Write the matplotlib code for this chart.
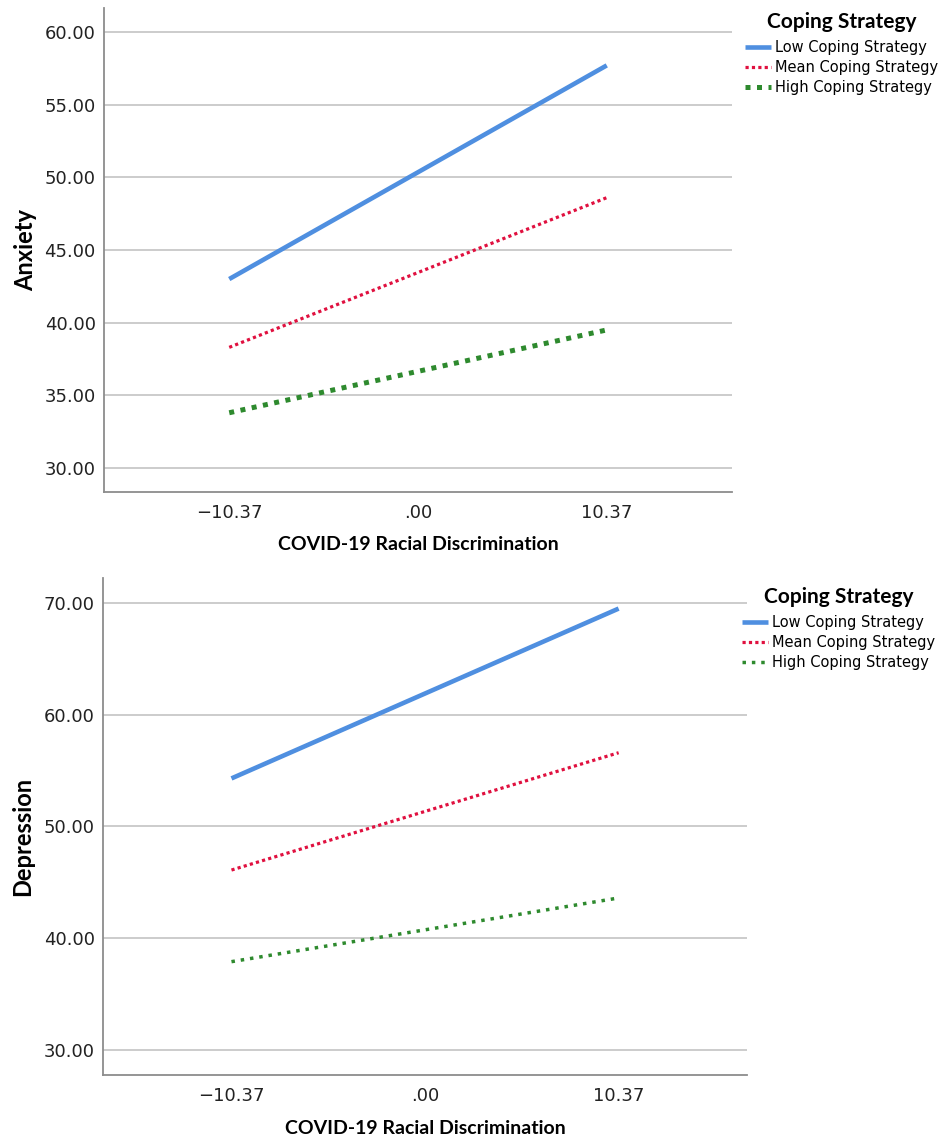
import matplotlib
matplotlib.use("Agg")
import matplotlib.pyplot as plt

# simple slopes: COVID-19 racial discrimination x coping strategy
x_vals = [-10.37, 10.37]
x_ticks = [-10.37, 0.0, 10.37]
x_ticklabels = ["\u221210.37", ".00", "10.37"]

groups = ["Low Coping Strategy", "Mean Coping Strategy", "High Coping Strategy"]

anx_low = [43.0, 57.7]
anx_mean = [38.3, 48.6]
anx_high = [33.8, 39.5]
anx_ticks = [30, 35, 40, 45, 50, 55, 60]

dep_low = [54.3, 69.5]
dep_mean = [46.1, 56.6]
dep_high = [37.9, 43.6]
dep_ticks = [30, 40, 50, 60, 70]

blue = "#4f8fe0"
red = "#e0103f"
green = "#2e8a2e"
label_font = ["Liberation Sans Narrow", "Lato", "DejaVu Sans"]

W, H = 941, 1142
fig = plt.figure(figsize=(W / 100, H / 100), dpi=100)


def panel(rect, low, mean, high, yticks, ylim, ylabel, green_dash, green_lw, ylab_y, leg_xy):
    ax = fig.add_axes(rect)
    ax.plot(x_vals, low, color=blue, lw=3.3, solid_capstyle="butt", label=groups[0])
    ax.plot(x_vals, mean, color=red, lw=2.3, linestyle=(0, (1, 1)),
            dash_capstyle="butt", label=groups[1])
    ax.plot(x_vals, high, color=green, lw=green_lw, linestyle=(0, green_dash),
            dash_capstyle="butt", label=groups[2])

    ax.set_xlim(-17.25, 17.25)
    ax.set_ylim(*ylim)
    ax.set_yticks(yticks)
    ax.set_yticklabels(["%.2f" % t for t in yticks])
    ax.set_xticks(x_ticks)
    ax.set_xticklabels(x_ticklabels)
    ax.tick_params(length=0, labelsize=13, colors="#222222")
    ax.tick_params(axis="y", pad=6)
    ax.tick_params(axis="x", pad=9)

    ax.grid(axis="y", color="#c8c8c8", lw=1.3)
    ax.set_axisbelow(True)
    for s in ["top", "right"]:
        ax.spines[s].set_visible(False)
    for s in ["left", "bottom"]:
        ax.spines[s].set_color("#8c8c8c")
        ax.spines[s].set_linewidth(1.3)

    ax.set_ylabel(ylabel, fontsize=17, fontweight="bold", family=label_font, va="center")
    ax.yaxis.set_label_coords(-0.125, ylab_y)
    ax.set_xlabel("COVID-19 Racial Discrimination", fontsize=14, fontweight="bold",
                  family=label_font, va="center")
    ax.xaxis.set_label_coords(0.5, -0.108)

    # legend sits to the right, anchored in figure pixels
    leg = ax.legend(loc="upper left",
                    bbox_to_anchor=(leg_xy[0] / W, 1 - leg_xy[1] / H),
                    bbox_transform=fig.transFigure, frameon=False,
                    fontsize=10.5, handlelength=1.8, handletextpad=0.3,
                    labelspacing=0.33, borderaxespad=0)
    leg.set_title("Coping Strategy", prop={"size": 15, "weight": "bold", "family": label_font})
    leg._legend_box.sep = 6
    return ax


panel([0.1105, 0.5692, 0.6674, 0.4238], anx_low, anx_mean, anx_high,
      anx_ticks, (28.35, 61.65), "Anxiety", (1, 1.3), 3.6, 0.5, (739, 6))
panel([0.1095, 0.0587, 0.6844, 0.4352], dep_low, dep_mean, dep_high,
      dep_ticks, (27.76, 72.24), "Depression", (1, 1.7), 2.5, 0.48, (736, 581))

fig.savefig("out.png", dpi=100)
